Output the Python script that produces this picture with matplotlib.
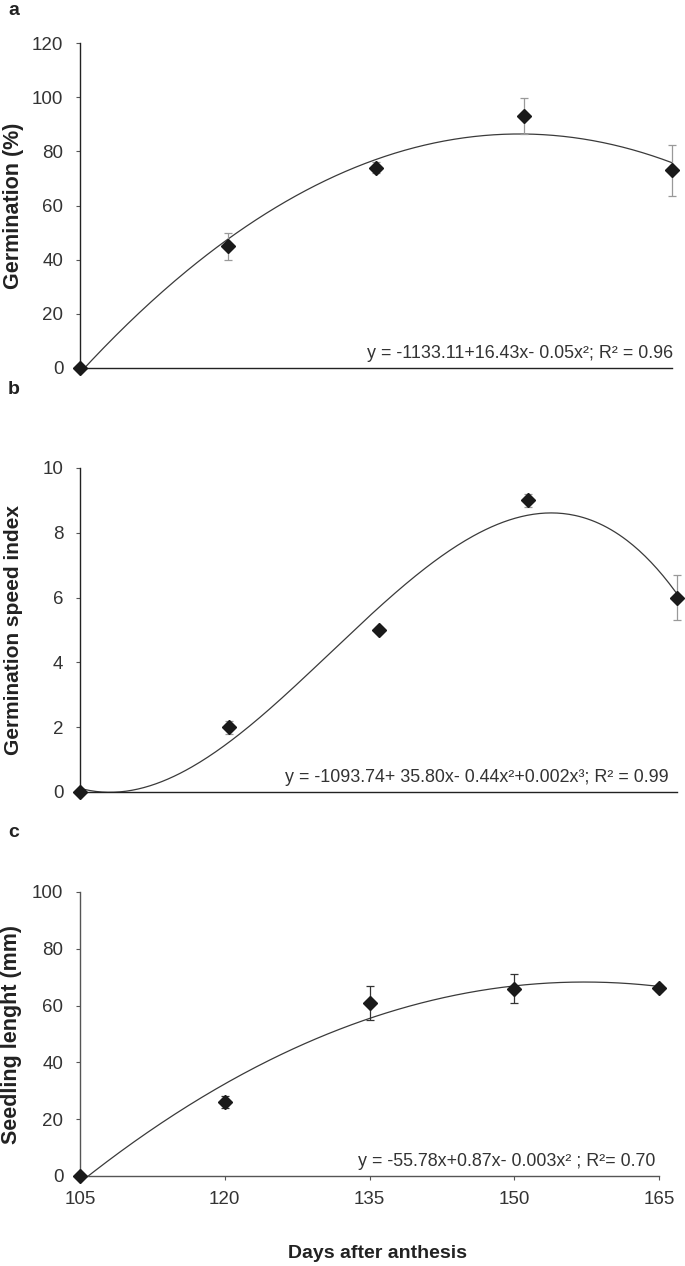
import matplotlib
matplotlib.use("Agg")
import matplotlib.pyplot as plt
import matplotlib.transforms as mtransforms
import numpy as np

plt.rcParams['font.family'] = ['Liberation Sans', 'DejaVu Sans']

# Data
days = [105, 120, 135, 150, 165]
germination = [0, 45, 74, 93, 73]
germination_err = [0, 5, 2, 6.7, 9.5]
speed_index = [0, 2.0, 5.0, 9.0, 6.0]
speed_index_err = [0, 0.2, 0.1, 0.2, 0.7]
seedling = [0, 26, 61, 66, 66.3]
seedling_err = [0, 2, 6, 5, 1]

eq_a = "y = -1133.11+16.43x- 0.05x²; R² = 0.96"
eq_b = "y = -1093.74+ 35.80x- 0.44x²+0.002x³; R² = 0.99"
eq_c = "y = -55.78x+0.87x- 0.003x² ; R²= 0.70"

W, H = 685, 1266
fig = plt.figure(figsize=(W / 100, H / 100), dpi=100)


def px_axes(left, right, top, bottom):
    """axes from pixel edges"""
    return fig.add_axes([left / W, 1 - bottom / H, (right - left) / W, (bottom - top) / H])


def panel(ax, y, yerr, deg, ymax, ystep, ylabel, label_x, label_size,
          eq, eq_right, err_color, spine_color, show_x):
    # trend line from a polynomial fit of the points
    coef = np.polyfit(days, y, deg)
    xs = np.linspace(days[0], days[-1], 300)
    ax.plot(xs, np.polyval(coef, xs), color='#3a3a3a', lw=0.9)
    ax.errorbar(days, y, yerr=yerr, fmt='none', ecolor=err_color, elinewidth=0.9,
                capsize=3, capthick=0.9, clip_on=False)
    ax.plot(days, y, 'D', color='#1a1a1a', ms=7.5, clip_on=False, zorder=5)

    ax.set_xlim(days[0], days[-1])
    ax.set_ylim(0, ymax)
    ax.set_yticks(np.arange(0, ymax + ystep / 2, ystep))
    for s in ['top', 'right']:
        ax.spines[s].set_visible(False)
    for s in ['left', 'bottom']:
        ax.spines[s].set_color(spine_color)
        ax.spines[s].set_linewidth(1.0)
    ax.tick_params(axis='y', direction='out', length=3, width=0.8, pad=9,
                   labelsize=13.5, labelcolor='#333333', color='#555555')
    if show_x:
        ax.set_xticks(days)
        ax.tick_params(axis='x', direction='out', length=3, width=0.8, pad=8,
                       labelsize=13.5, labelcolor='#333333', color='#555555')
    else:
        ax.set_xticks([])

    ax.set_ylabel(ylabel, fontsize=label_size, fontweight='bold', color='#222222')
    tr = mtransforms.blended_transform_factory(fig.transFigure, ax.transAxes)
    ax.yaxis.set_label_coords(label_x / W, 0.5, transform=tr)

    # equation, right edge given in figure pixels
    tr_eq = mtransforms.blended_transform_factory(fig.transFigure, ax.transAxes)
    ax.text(eq_right / W, 0.02, eq, transform=tr_eq, ha='right', va='bottom',
            fontsize=12.9, color='#333333')


ax_a = px_axes(80, 672, 43, 368)
panel(ax_a, germination, germination_err, 2, 120, 20, 'Germination (%)', 24, 15.5,
      eq_a, 673, '#999999', '#222222', False)

ax_b = px_axes(80, 677, 468, 792)
panel(ax_b, speed_index, speed_index_err, 3, 10, 2, 'Germination speed index', 23, 15,
      eq_b, 669, '#999999', '#222222', False)

ax_c = px_axes(80, 659, 892, 1176)
panel(ax_c, seedling, seedling_err, 2, 100, 20, 'Seedling lenght (mm)', 22, 15.5,
      eq_c, 655, '#333333', '#555555', True)

# panel letters and shared x label
for letter, ypx in [('a', 2), ('b', 381), ('c', 824)]:
    fig.text(8 / W, 1 - ypx / H, letter, fontsize=14, fontweight='bold', color='#222222',
             ha='left', va='top')
fig.text(378 / W, 1 - 1253 / H, 'Days after anthesis', fontsize=14, fontweight='bold',
         color='#222222', ha='center', va='center')

fig.savefig('out.png', dpi=100)
